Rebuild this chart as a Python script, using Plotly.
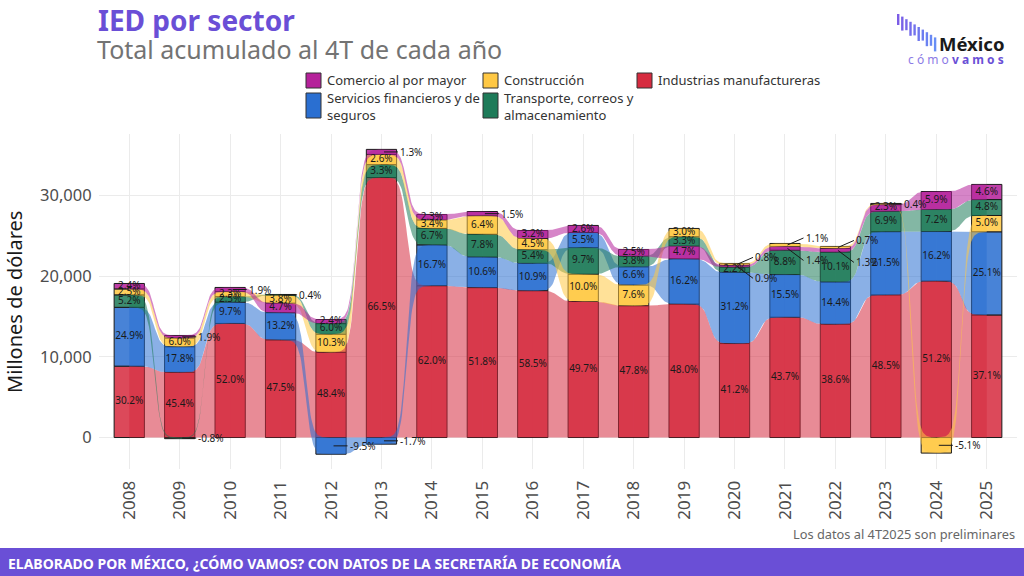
import numpy as np
import plotly.graph_objects as go

# ---------------- data ----------------
years = list(range(2008, 2026))
year_labels = [str(y) for y in years]

# total FDI of each year (millions of USD), percentages are shares of it
total_ied = [29270, 17780, 27180, 25460, 21790, 48430, 30330, 35850, 31090,
             33900, 34110, 34440, 28260, 34100, 36360, 36430, 37860, 40930]

pct_comercio = [2.4, 1.9, 1.9, 4.7, 2.4, 1.3, 2.3, 1.5, 3.2, 2.6, 2.5, 4.7,
                0.9, 1.4, 1.3, 2.3, 5.9, 4.6]
pct_construccion = [2.5, 6.0, 2.3, 3.8, 10.3, 2.6, 3.4, 6.4, 4.5, 10.0, 7.6, 3.0,
                    0.8, 1.1, 0.7, 0.4, -5.1, 5.0]
pct_manufactura = [30.2, 45.4, 52.0, 47.5, 48.4, 66.5, 62.0, 51.8, 58.5, 49.7, 47.8,
                   48.0, 41.2, 43.7, 38.6, 48.5, 51.2, 37.1]
pct_financieros = [24.9, 17.8, 9.7, 13.2, -9.5, -1.7, 16.7, 10.6, 10.9, 5.5, 6.6,
                   16.2, 31.2, 15.5, 14.4, 21.5, 16.2, 25.1]
pct_transporte = [5.2, -0.8, 2.5, 0.4, 6.0, 3.3, 6.7, 7.8, 5.4, 9.7, 3.8, 3.3,
                  2.2, 8.8, 10.1, 6.9, 7.2, 4.8]

sector_names = ["Comercio al por mayor", "Construcción", "Industrias manufactureras",
                "Servicios financieros y de seguros",
                "Transporte, correos y almacenamiento"]
sector_pcts = [pct_comercio, pct_construccion, pct_manufactura, pct_financieros, pct_transporte]

# ---------------- style ----------------
sector_colors = [(181, 33, 154), (255, 200, 68), (214, 43, 63), (42, 111, 209), (30, 123, 89)]
legend_labels = ["Comercio al por mayor", "Construcción", "Industrias manufactureras",
                 "Servicios financieros y de<br>seguros", "Transporte, correos y<br>almacenamiento"]
ribbon_order = [2, 3, 4, 1, 0]
FONT = "Noto Sans"
BAR_W = 0.6

def rgba(c, a):
    return f"rgba({c[0]},{c[1]},{c[2]},{a})"

def on_white(c, a):
    return "rgb(%d,%d,%d)" % tuple(round(v * a + 255 * (1 - a)) for v in c)

# ---------------- compute stacked segments (sorted by size per year) ----------------
n = len(years)
ns = len(sector_names)
values = [[total_ied[j] * sector_pcts[s][j] / 100.0 for j in range(n)] for s in range(ns)]
lo = [[0.0] * n for _ in range(ns)]
hi = [[0.0] * n for _ in range(ns)]
for j in range(n):
    pos = sorted([s for s in range(ns) if values[s][j] >= 0], key=lambda s: -values[s][j])
    cum = 0.0
    for s in pos:
        lo[s][j] = cum
        hi[s][j] = cum + values[s][j]
        cum += values[s][j]
    for s in range(ns):
        if values[s][j] < 0:
            lo[s][j] = values[s][j]
            hi[s][j] = 0.0

fig = go.Figure()

# ---------------- ribbons ----------------
t = np.linspace(0, 1, 60)
k = 8.0
sig = (np.tanh(k * (t - 0.5)) / np.tanh(k / 2) + 1) / 2
for s in ribbon_order:
    for j in range(n - 1):
        x0, x1 = years[j], years[j + 1]
        xs = x0 + t * (x1 - x0)
        up = hi[s][j] + (hi[s][j + 1] - hi[s][j]) * sig
        dn = lo[s][j] + (lo[s][j + 1] - lo[s][j]) * sig
        fig.add_trace(go.Scatter(
            x=np.concatenate([xs, xs[::-1]]), y=np.concatenate([up, dn[::-1]]),
            fill="toself", fillcolor=rgba(sector_colors[s], 0.55), mode="lines",
            line=dict(width=0), hoverinfo="skip", showlegend=False))

# ---------------- bars ----------------
for s in range(ns):
    fig.add_trace(go.Bar(
        x=years, y=[hi[s][j] - lo[s][j] for j in range(n)], base=[lo[s][j] for j in range(n)],
        width=BAR_W, name=sector_names[s],
        marker=dict(color=on_white(sector_colors[s], 0.86), line=dict(color="#1a1a1a", width=1)),
        showlegend=False))

# ---------------- labels ----------------
in_x, in_y, in_t = [], [], []
annotations = []
for j in range(n):
    small = []
    for s in range(ns):
        p = sector_pcts[s][j]
        mid = (lo[s][j] + hi[s][j]) / 2
        if p >= 2.0:
            in_x.append(years[j]); in_y.append(mid); in_t.append(f"{p:.1f}%")
        else:
            small.append((s, p, mid))
    top_small = sorted([a for a in small if a[1] >= 0], key=lambda a: -a[2])
    for s, p, mid in small:
        ax, ay = 14, 0
        if p >= 0 and len(top_small) == 2:
            ax = 16
            ay = -7 if (s, p, mid) == top_small[0] else 12
        annotations.append(dict(
            x=years[j] + 0.05, y=mid, xref="x", yref="y", text=f"{p:.1f}%",
            showarrow=True, arrowhead=0, arrowwidth=1, arrowcolor="#1a1a1a",
            ax=ax, ay=ay, xanchor="left", yanchor="middle", standoff=0,
            font=dict(family=FONT, size=10, color="#1a1a1a")))

fig.add_trace(go.Scatter(x=in_x, y=in_y, text=in_t, mode="text",
                         textfont=dict(family=FONT, size=10, color="#1a1a1a"),
                         hoverinfo="skip", showlegend=False))

# ---------------- layout helpers ----------------
L, R, T, B = 99, 1017, 134, 469
def px_x(px):
    return (px - L) / (R - L)
def px_y(py):
    return (B - py) / (B - T)

shapes = []
# footer band
shapes.append(dict(type="rect", xref="paper", yref="paper", x0=px_x(0), x1=px_x(1024),
                   y0=px_y(576), y1=px_y(548), fillcolor="#6A4FD6", line=dict(width=0), layer="above"))

# title / subtitle
annotations += [
    dict(text="<b>IED por sector</b>", xref="paper", yref="paper", x=px_x(96), y=px_y(20),
         xanchor="left", yanchor="middle", showarrow=False,
         font=dict(family=FONT, size=28, color="#6A4FD6")),
    dict(text="Total acumulado al 4T de cada año", xref="paper", yref="paper", x=px_x(95), y=px_y(49),
         xanchor="left", yanchor="middle", showarrow=False,
         font=dict(family=FONT, size=25, color="#737373")),
    dict(text="Millones de dólares", xref="paper", yref="paper", x=px_x(14), y=px_y(302),
         xanchor="center", yanchor="middle", textangle=-90, showarrow=False,
         font=dict(family=FONT, size=20, color="#1a1a1a")),
    dict(text="Los datos al 4T2025 son preliminares", xref="paper", yref="paper", x=px_x(1017), y=px_y(534),
         xanchor="right", yanchor="middle", showarrow=False,
         font=dict(family=FONT, size=12.8, color="#666666")),
    dict(text="<b>ELABORADO POR MÉXICO, ¿CÓMO VAMOS? CON DATOS DE LA SECRETARÍA DE ECONOMÍA</b>",
         xref="paper", yref="paper", x=px_x(6), y=px_y(563), xanchor="left", yanchor="middle",
         showarrow=False, font=dict(family=FONT, size=14, color="white")),
]

# manual legend
leg_pos = [(306, 73, 88, 80), (483, 73, 88, 80), (637, 73, 88, 80), (306, 93, 118, 106), (483, 93, 118, 106)]
for s in range(ns):
    x0, y0, y1, yc = leg_pos[s]
    shapes.append(dict(type="rect", xref="paper", yref="paper", x0=px_x(x0), x1=px_x(x0 + 15),
                       y0=px_y(y1), y1=px_y(y0), fillcolor=rgba(sector_colors[s], 1.0),
                       line=dict(color="#333333", width=1)))
    annotations.append(dict(text=legend_labels[s], xref="paper", yref="paper", x=px_x(x0 + 19),
                            y=px_y(yc), xanchor="left", yanchor="middle", align="left",
                            showarrow=False, font=dict(family=FONT, size=13, color="#333333")))

# logo
for i in range(10):
    frac = i / 9
    col = (int(123 - 20 * frac), int(92 + 50 * frac), int(230 + 15 * frac))
    top = 14 + i * 2.6
    h = 11 if i % 2 == 0 else 14
    xx = 897 + i * 4.1
    shapes.append(dict(type="rect", xref="paper", yref="paper", x0=px_x(xx), x1=px_x(xx + 2.4),
                       y0=px_y(top + h), y1=px_y(top), fillcolor=rgba(col, 1.0), line=dict(width=0)))
annotations += [
    dict(text="<b>México</b>", xref="paper", yref="paper", x=px_x(1006), y=px_y(44),
         xanchor="right", yanchor="middle", showarrow=False,
         font=dict(family=FONT, size=18.5, color="#1a1a1a")),
    dict(text="<span style='color:#8C7BE6'>c ó m o </span><b>v a m o s</b>", xref="paper", yref="paper",
         x=px_x(1006), y=px_y(59), xanchor="right", yanchor="middle", showarrow=False,
         font=dict(family=FONT, size=12, color="#6A4FD6")),
]

fig.update_layout(
    width=1024, height=576, margin=dict(l=L, r=1024 - R, t=T, b=576 - B),
    paper_bgcolor="white", plot_bgcolor="white", barmode="overlay",
    font=dict(family=FONT), showlegend=False,
    xaxis=dict(range=[2007.4, 2025.6], tickvals=years, ticktext=year_labels, tickangle=-90,
               showgrid=True, gridcolor="#EBEBEB", gridwidth=1, zeroline=False, showline=False,
               ticks="outside", ticklen=4, tickcolor="rgba(0,0,0,0)",
               tickfont=dict(family=FONT, size=17, color="#4d4d4d")),
    yaxis=dict(range=[-3900, 37600], tickvals=[0, 10000, 20000, 30000], tickformat=",d",
               showgrid=True, gridcolor="#EBEBEB", gridwidth=1, zeroline=False, showline=False,
               ticks="outside", ticklen=3, tickcolor="rgba(0,0,0,0)",
               tickfont=dict(family=FONT, size=16.5, color="#4d4d4d")),
    shapes=shapes, annotations=annotations,
)

fig.write_html("out.html")
